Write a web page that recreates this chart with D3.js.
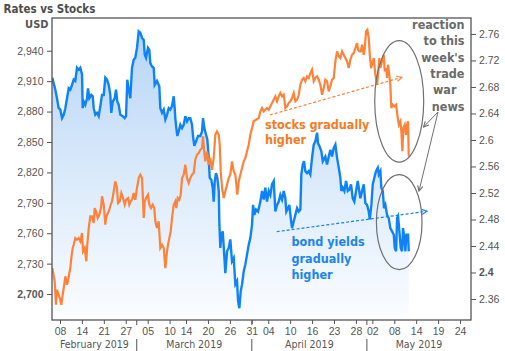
<!DOCTYPE html>
<html><head><meta charset="utf-8">
<script src="https://cdn.jsdelivr.net/npm/d3@7"></script>
<style>
html,body{margin:0;padding:0;background:#fff;}
svg{display:block;font-family:"DejaVu Sans Condensed","DejaVu Sans",sans-serif;font-stretch:condensed;}
</style></head><body>
<svg id="chart" width="505" height="351"></svg>
<script>
// ---- DATA ----
// time in trading days since 2019-02-08 (weekends, Feb 18 and Apr 19 excluded)
const yieldT = [-1.4,-0.86,-0.55,-0.24,0.05,0.37,0.68,0.97,1.28,1.59,1.88,2.19,2.5,2.79,3.1,3.41,3.71,4.02,4.14,4.33,4.62,4.93,5.11,5.35,5.71,5.97,6.15,6.44,6.75,7.06,7.36,7.67,7.98,8.27,8.58,8.89,9.18,9.36,9.62,9.98,10.22,10.46,10.71,11.01,11.44,11.81,12.05,12.28,12.54,12.83,13.14,13.45,13.74,14.05,14.36,14.66,14.97,15.28,15.46,15.7,16.06,16.3,16.48,16.79,17.1,17.28,17.7,18.12,18.31,18.62,18.93,19.22,19.53,19.84,20.13,20.44,20.75,20.93,21.04,21.23,21.41,21.66,21.96,22.27,22.58,22.87,23.18,23.49,23.78,24.09,24.27,24.51,24.82,25.19,25.61,25.92,26.1,26.34,26.65,26.88,27.14,27.32,27.61,27.87,28.05,28.24,28.47,28.71,28.97,29.07,29.26,29.44,29.7,29.93,30.17,30.48,30.79,31.08,31.39,31.7,32.0,32.31,32.49,32.73,32.98,33.22,33.53,33.82,34.13,34.44,34.73,35.04,35.23,35.46,35.77,36.14,36.56,36.87,37.18,37.47,37.78,38.09,38.38,38.69,39.0,39.3,39.61,39.92,40.21,40.52,40.83,41.12,41.3,41.61,41.85,42.11,42.34,42.65,42.95,43.26,43.57,43.86,44.04,44.3,44.53,44.77,45.08,45.39,45.68,45.99,46.3,46.6,46.91,47.09,47.33,47.69,47.95,48.42,48.73,49.04,49.33,49.64,49.95,50.25,50.56,50.87,51.16,51.34,51.6,51.89,52.2,52.51,52.8,53.11,53.42,53.71,54.03,54.33,54.52,54.81,55.12,55.43,55.72,56.03,56.34,56.53,56.82,57.07,57.36,57.67,57.99,58.17,58.46,58.64,58.9,59.13,59.37,59.68,59.99,60.28,60.6,60.91,61.09,61.33,61.51,61.69,61.93,62.18,62.42,62.6,62.84,63.02,63.21,63.51,63.64];
const yieldV = [2.694,2.676,2.663,2.648,2.646,2.633,2.638,2.648,2.663,2.678,2.676,2.683,2.691,2.689,2.709,2.706,2.709,2.699,2.648,2.658,2.653,2.663,2.678,2.663,2.668,2.666,2.648,2.638,2.641,2.636,2.651,2.668,2.668,2.694,2.691,2.683,2.668,2.641,2.658,2.663,2.676,2.658,2.653,2.638,2.636,2.633,2.636,2.691,2.676,2.663,2.709,2.721,2.724,2.739,2.764,2.762,2.754,2.751,2.729,2.724,2.739,2.736,2.716,2.711,2.709,2.683,2.689,2.681,2.648,2.641,2.646,2.631,2.638,2.648,2.646,2.651,2.666,2.648,2.633,2.618,2.606,2.613,2.623,2.618,2.623,2.636,2.628,2.633,2.633,2.623,2.606,2.591,2.598,2.606,2.606,2.613,2.633,2.618,2.608,2.601,2.573,2.543,2.54,2.528,2.507,2.538,2.55,2.543,2.523,2.477,2.437,2.457,2.462,2.432,2.399,2.432,2.437,2.45,2.417,2.422,2.382,2.387,2.357,2.346,2.372,2.382,2.402,2.412,2.427,2.442,2.452,2.472,2.502,2.487,2.495,2.492,2.507,2.523,2.51,2.528,2.507,2.523,2.517,2.533,2.538,2.492,2.502,2.507,2.517,2.51,2.523,2.512,2.492,2.497,2.502,2.482,2.467,2.477,2.487,2.497,2.492,2.495,2.548,2.563,2.568,2.553,2.55,2.553,2.548,2.573,2.593,2.598,2.611,2.595,2.591,2.583,2.568,2.575,2.563,2.575,2.585,2.575,2.588,2.593,2.573,2.558,2.543,2.523,2.528,2.523,2.538,2.523,2.525,2.533,2.512,2.507,2.523,2.538,2.528,2.512,2.523,2.533,2.505,2.502,2.492,2.48,2.502,2.533,2.543,2.553,2.558,2.548,2.553,2.528,2.523,2.497,2.502,2.487,2.482,2.467,2.462,2.457,2.437,2.432,2.482,2.485,2.462,2.437,2.432,2.467,2.452,2.432,2.457,2.457,2.432];
const stockT = [-1.4,-0.97,-0.73,-0.55,-0.24,0.05,0.24,0.49,0.68,0.97,1.28,1.46,1.7,1.88,2.06,2.32,2.5,2.79,3.1,3.41,3.71,4.02,4.2,4.51,4.8,4.98,5.24,5.53,5.84,6.15,6.33,6.57,6.88,7.17,7.48,7.67,7.98,8.27,8.45,8.76,9.0,9.25,9.49,9.8,10.09,10.4,10.59,10.9,11.19,11.5,11.81,12.05,12.41,12.65,12.9,13.14,13.45,13.74,14.05,14.36,14.66,14.97,15.28,15.46,15.7,16.06,16.3,16.61,16.92,17.21,17.39,17.7,18.01,18.31,18.62,18.93,19.22,19.53,19.71,19.95,20.2,20.44,20.75,21.04,21.23,21.48,21.77,22.03,22.27,22.58,22.87,23.18,23.49,23.78,24.09,24.4,24.69,25.0,25.31,25.61,25.92,26.1,26.34,26.52,26.83,27.14,27.43,27.74,28.05,28.34,28.65,28.97,29.15,29.33,29.57,29.88,30.17,30.48,30.79,31.08,31.39,31.7,32.0,32.18,32.36,32.62,32.91,33.22,33.53,33.82,34.13,34.44,34.73,35.04,35.35,35.77,36.27,36.56,36.87,37.18,37.47,37.78,38.09,38.38,38.69,39.0,39.3,39.61,39.92,40.21,40.52,40.83,41.12,41.43,41.74,42.03,42.34,42.65,42.95,43.26,43.57,43.86,44.17,44.48,44.77,45.08,45.39,45.68,45.99,46.3,46.6,46.91,47.22,47.51,47.82,48.13,48.42,48.73,49.04,49.33,49.64,49.95,50.25,50.56,50.87,51.16,51.47,51.78,52.07,52.38,52.69,52.98,53.29,53.6,53.9,54.21,54.39,54.63,54.88,55.12,55.43,55.61,55.85,56.09,56.34,56.53,56.76,56.94,57.26,57.55,57.86,58.04,58.28,58.46,58.77,59.08,59.26,59.5,59.68,59.86,60.1,60.28,60.46,60.72,61.01,61.33,61.56,61.82,62.11,62.29,62.48,62.66,62.91,63.15,63.33,63.51,63.64];
const stockV = [2725.6,2712.5,2689.4,2704.2,2699.3,2694.4,2689.4,2699.3,2705.9,2717.5,2709.2,2712.5,2720.7,2725.6,2735.5,2745.4,2748.6,2755.2,2753.6,2755.2,2752.0,2760.2,2742.1,2745.4,2732.3,2748.6,2765.1,2776.6,2776.6,2770.0,2784.8,2781.6,2775.0,2778.2,2784.8,2796.4,2788.1,2768.4,2776.6,2779.9,2783.2,2788.1,2791.4,2801.3,2811.2,2804.6,2789.8,2791.4,2799.6,2794.7,2788.1,2793.0,2794.7,2788.1,2791.4,2793.0,2799.6,2793.0,2804.6,2814.4,2817.7,2814.4,2775.0,2791.4,2794.7,2798.0,2788.1,2784.8,2788.1,2784.8,2771.7,2765.1,2771.7,2745.4,2748.6,2745.4,2725.6,2742.1,2748.6,2755.2,2761.8,2775.0,2788.1,2791.4,2784.8,2794.7,2793.0,2798.0,2814.4,2817.7,2827.5,2814.4,2809.5,2814.4,2817.7,2819.4,2832.5,2837.4,2839.1,2842.3,2844.0,2855.6,2839.1,2830.9,2840.8,2827.5,2834.2,2822.6,2834.2,2857.1,2860.5,2857.1,2847.3,2821.0,2804.6,2794.7,2801.3,2807.8,2814.4,2817.7,2830.9,2821.0,2817.7,2807.8,2798.0,2811.2,2817.7,2824.3,2830.9,2834.2,2840.8,2847.3,2857.1,2863.7,2870.4,2871.9,2873.6,2880.2,2883.5,2880.2,2881.8,2883.5,2881.8,2885.1,2888.4,2891.7,2895.0,2890.1,2895.0,2898.3,2895.0,2896.6,2883.5,2885.1,2888.4,2890.1,2893.3,2898.3,2890.1,2891.7,2896.6,2906.5,2911.4,2913.1,2909.8,2914.7,2913.1,2918.0,2921.3,2909.8,2913.1,2914.7,2911.4,2906.5,2896.6,2903.2,2911.4,2909.8,2899.9,2904.9,2911.4,2913.1,2929.5,2939.4,2934.5,2932.8,2939.4,2936.0,2932.8,2929.5,2922.9,2931.1,2936.0,2937.7,2942.7,2947.6,2941.0,2939.4,2939.4,2945.9,2936.0,2942.7,2959.1,2960.7,2952.5,2936.0,2922.9,2926.2,2932.8,2916.3,2906.5,2916.3,2932.8,2922.9,2929.5,2936.0,2919.7,2922.9,2913.1,2926.2,2916.3,2906.5,2883.5,2886.7,2885.1,2886.7,2876.9,2867.0,2870.4,2860.5,2840.8,2863.7,2867.0,2857.1,2867.0,2870.4,2835.8];

const leftTicks = [2700,2730,2760,2790,2820,2850,2880,2910,2940];
const rightTicks = [2.36,2.4,2.44,2.48,2.52,2.56,2.6,2.64,2.68,2.72,2.76];
const boldLeft = [2700];
const boldRight = [2.4];
const dayTicks = ["2019-02-08","2019-02-14","2019-02-21","2019-02-27","2019-03-05","2019-03-10","2019-03-14","2019-03-20","2019-03-26","2019-03-31","2019-04-04","2019-04-10","2019-04-16","2019-04-23","2019-04-28","2019-05-02","2019-05-08","2019-05-14","2019-05-19","2019-05-24"];
const monthStarts = ["2019-03-01","2019-04-01","2019-05-01"];
const monthLabels = ["February 2019","March 2019","April 2019","May 2019"];
const holidays = ["2019-02-18","2019-04-19"];

// ---- HELPERS ----
function tradingIndex(s){
  const d = new Date(s+"T00:00:00Z");
  while(d.getUTCDay()===0||d.getUTCDay()===6) d.setUTCDate(d.getUTCDate()+1);
  const c = new Date("2019-02-08T00:00:00Z");
  let n = 0;
  while(c < d){
    c.setUTCDate(c.getUTCDate()+1);
    const w = c.getUTCDay(), iso = c.toISOString().slice(0,10);
    if(w!==0 && w!==6 && !holidays.includes(iso)) n++;
  }
  return n;
}

const W=505,H=351;
const M = {l:52, r:471, t:18, b:320};
const x = d3.scaleLinear().domain([-1.46, 75.0]).range([M.l, M.r]);
const yS = d3.scaleLinear().domain([2674.4, 2972.3]).range([M.b, M.t]);
const yY = d3.scaleLinear().domain([2.3283, 2.7841]).range([M.b, M.t]);

const svg = d3.select("#chart");
const defs = svg.append("defs");
const grad = defs.append("linearGradient").attr("id","gfill").attr("gradientUnits","userSpaceOnUse")
  .attr("x1",0).attr("y1",M.t).attr("x2",0).attr("y2",M.b);
grad.append("stop").attr("offset","0%").attr("stop-color","#b3d3f6");
grad.append("stop").attr("offset","45%").attr("stop-color","#d5e7fa");
grad.append("stop").attr("offset","100%").attr("stop-color","#fbfdff");
defs.append("clipPath").attr("id","clip").append("rect").attr("x",M.l).attr("y",M.t).attr("width",M.r-M.l).attr("height",M.b-M.t);
function marker(id,color){
  defs.append("marker").attr("id",id).attr("viewBox","0 0 8 8").attr("refX",7).attr("refY",4)
    .attr("markerWidth",7).attr("markerHeight",7).attr("markerUnits","userSpaceOnUse").attr("orient","auto")
    .append("path").attr("d","M1,1 L7,4 L1,7").attr("fill","none").attr("stroke",color).attr("stroke-width",1.3);
}
const ORANGE="#ff8238", BLUE="#0d83f7", GRAY="#707070";
marker("mO",ORANGE); marker("mB",BLUE); marker("mG",GRAY);

svg.append("rect").attr("width",W).attr("height",H).attr("fill","#fff");

const plot = svg.append("g").attr("clip-path","url(#clip)");
const yieldData = yieldT.map((t,i)=>({t, v:yieldV[i]}));
const stockData = stockT.map((t,i)=>({t, v:stockV[i]}));

plot.append("path").datum(yieldData)
  .attr("d", d3.area().x(d=>x(d.t)).y0(M.b).y1(d=>yY(d.v)))
  .attr("fill","url(#gfill)");
plot.append("path").datum(yieldData)
  .attr("d", d3.line().x(d=>x(d.t)).y(d=>yY(d.v)))
  .attr("fill","none").attr("stroke",BLUE).attr("stroke-width",2.4).attr("stroke-linejoin","miter");
plot.append("path").datum(stockData)
  .attr("d", d3.line().x(d=>x(d.t)).y(d=>yS(d.v)))
  .attr("fill","none").attr("stroke",ORANGE).attr("stroke-width",2.2).attr("stroke-linejoin","miter");

// ---- AXES ----
const TXT="#555";
function styleAxis(g){
  g.select(".domain").remove();
  g.selectAll(".tick line").attr("stroke","#555");
  g.selectAll(".tick text").attr("fill",TXT).attr("font-size",10.5)
    .attr("font-family",null);
}
const gL = svg.append("g").attr("transform",`translate(${M.l},0)`)
  .call(d3.axisLeft(yS).tickValues(leftTicks).tickSize(5).tickPadding(3.5).tickFormat(d3.format(",")));
styleAxis(gL);
gL.selectAll(".tick text").attr("font-weight",d=>boldLeft.includes(d)?"bold":"normal");

const gR = svg.append("g").attr("transform",`translate(${M.r},0)`)
  .call(d3.axisRight(yY).tickValues(rightTicks).tickSize(5).tickPadding(3).tickFormat(d=>String(+d.toFixed(2))));
styleAxis(gR);
gR.selectAll(".tick text").attr("font-weight",d=>boldRight.includes(d)?"bold":"normal");

const dayIdx = dayTicks.map(tradingIndex);
const gB = svg.append("g").attr("transform",`translate(0,${M.b})`)
  .call(d3.axisBottom(x).tickValues(dayIdx).tickSize(4).tickPadding(4).tickFormat((d,i)=>dayTicks[i].slice(8)));
styleAxis(gB);

// month separators
const monthIdx = monthStarts.map(tradingIndex);
const sep = svg.append("g").attr("stroke","#555").attr("stroke-width",1);
monthIdx.forEach(m=>{
  sep.append("line").attr("x1",x(m)).attr("x2",x(m)).attr("y1",M.b).attr("y2",M.b+5);
  sep.append("line").attr("x1",x(m)).attr("x2",x(m)).attr("y1",M.b+19).attr("y2",H);
});
const bounds = [x.domain()[0], ...monthIdx, x.domain()[1]];
monthLabels.forEach((lab,i)=>{
  svg.append("text").attr("x",(x(bounds[i])+x(bounds[i+1]))/2).attr("y",347.5)
    .attr("text-anchor","middle").attr("fill",TXT).attr("font-size",10.5).text(lab);
});

// frame
svg.append("rect").attr("x",M.l).attr("y",M.t).attr("width",M.r-M.l).attr("height",M.b-M.t)
  .attr("fill","none").attr("stroke","#555").attr("stroke-width",1.3);

// titles
svg.append("text").attr("x",3.5).attr("y",12.5).attr("font-weight","bold").attr("font-size",11.5)
  .attr("fill","#4d4d4d").text("Rates vs Stocks");
svg.append("text").attr("x",48.5).attr("y",28.3).attr("text-anchor","end").attr("font-weight","bold")
  .attr("font-size",11).attr("fill","#555").text("USD");

// ---- ANNOTATIONS ----
const ann = svg.append("g");
// trend arrows (data coordinates)
ann.append("line").attr("x1",x(38.3)).attr("y1",yS(2876.6)).attr("x2",x(62.4)).attr("y2",yS(2913.8))
  .attr("stroke",ORANGE).attr("stroke-width",1.2).attr("stroke-dasharray","3,2").attr("marker-end","url(#mO)");
ann.append("line").attr("x1",x(39.55)).attr("y1",yY(2.4616)).attr("x2",x(66.98)).attr("y2",yY(2.4924))
  .attr("stroke",BLUE).attr("stroke-width",1.2).attr("stroke-dasharray","3,2").attr("marker-end","url(#mB)");
// ellipses
ann.append("ellipse").attr("cx",x(61.9)).attr("cy",yS(2890.1))
  .attr("rx",x(61.9+4.47)-x(61.9)).attr("ry",yS(2890.1)-yS(2890.1+59.9))
  .attr("fill","none").attr("stroke",GRAY).attr("stroke-width",1.2);
ann.append("ellipse").attr("cx",x(61.9)).attr("cy",yY(2.4759))
  .attr("rx",x(61.9+4.16)-x(61.9)).attr("ry",yY(2.4759)-yY(2.4759+0.0717))
  .attr("fill","none").attr("stroke",GRAY).attr("stroke-width",1.2);
// leaders
ann.append("line").attr("x1",438).attr("y1",112).attr("x2",423.5).attr("y2",127)
  .attr("stroke",GRAY).attr("stroke-width",1).attr("marker-end","url(#mG)");
ann.append("line").attr("x1",438).attr("y1",112).attr("x2",419).attr("y2",191)
  .attr("stroke",GRAY).attr("stroke-width",1).attr("marker-end","url(#mG)");

function lines(arr, xPos, y0, dy, color, anchor){
  arr.forEach((s,i)=>{
    ann.append("text").attr("x",Array.isArray(xPos)?xPos[i]:xPos).attr("y",y0+dy*i)
      .attr("text-anchor",anchor).attr("font-weight","bold").attr("font-size",12.5)
      .attr("fill",color).text(s);
  });
}
lines(["stocks gradually","higher"], 265, 128.5, 15, "#f77a22", "start");
lines(["bond yields","gradually","higher"], 291.5, 245.7, 16.8, "#1a84f0", "start");
lines(["reaction","to this","week's","trade","war","news"], [464.5,464.5,464.5,464.5,456.5,464.5], 29, 16.3, "#6a6a6a", "end");
</script>
</body></html>
